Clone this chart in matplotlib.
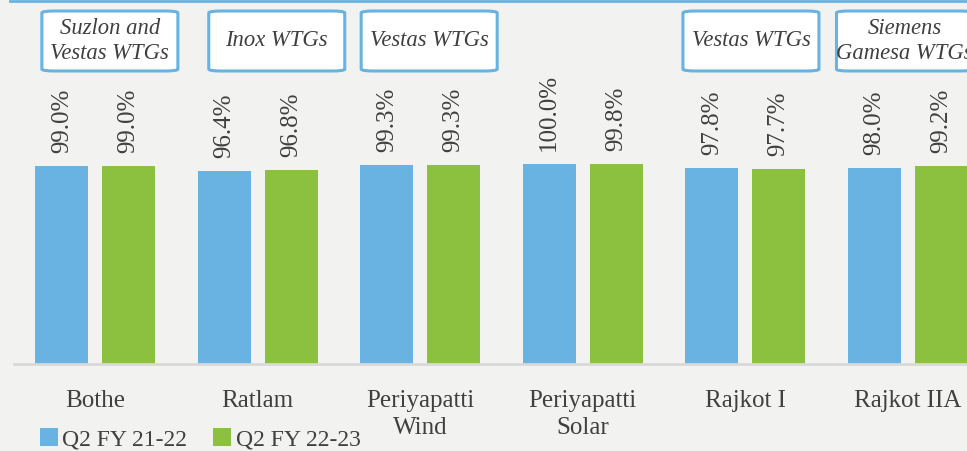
import numpy as np
import matplotlib.pyplot as plt
from matplotlib.patches import FancyBboxPatch

# -----------------------------
# DATA
# -----------------------------
plants = ["Bothe", "Ratlam", "Periyapatti\nWind", "Periyapatti\nSolar", "Rajkot I", "Rajkot IIA"]
q2_fy2122 = [99.0, 96.4, 99.3, 100.0, 97.8, 98.0]
q2_fy2223 = [99.0, 96.8, 99.3, 99.8, 97.7, 99.2]
series_names = ["Q2 FY 21-22", "Q2 FY 22-23"]

# OEM notes above the groups (None = no box)
oem_notes = ["Suzlon and\nVestas WTGs", "Inox WTGs", "Vestas WTGs", None, "Vestas WTGs", "Siemens\nGamesa WTGs"]
note_shift = [0.09, 0.117, 0.055, 0.0, 0.035, -0.02]

# -----------------------------
# STYLE
# -----------------------------
BG = "#f2f2f1"
BLUE = "#69b3e2"
GREEN = "#8bc13f"
TXT = "#404040"
SERIF = ["Liberation Serif", "DejaVu Serif"]

W, H = 967, 451
fig = plt.figure(figsize=(W / 100, H / 100), dpi=100, facecolor=BG)

# axes runs past the right edge, the source image is cropped there
ax_left, ax_w = 14 / W, 975 / W
ax_bottom, ax_h = (H - 364) / H, 364 / H
ax = fig.add_axes([ax_left, ax_bottom, ax_w, ax_h])
ax.set_facecolor(BG)

x = np.arange(len(plants))
bw = 0.326
off = 0.206

b1 = ax.bar(x - off, q2_fy2122, bw, color=BLUE, label=series_names[0])
b2 = ax.bar(x + off, q2_fy2223, bw, color=GREEN, label=series_names[1])

for bars, vals in ((b1, q2_fy2122), (b2, q2_fy2223)):
    for r, v in zip(bars, vals):
        ax.text(r.get_x() + r.get_width() / 2, v + 6.5, f"{v:.1f}%", rotation=90,
                ha="center", va="bottom", fontsize=18, color=TXT, family=SERIF)

# OEM boxes
box_w, box_h = 0.837, 30
for i, note in enumerate(oem_notes):
    if note is None:
        continue
    cx = i + note_shift[i]
    cy = 161.5
    p = FancyBboxPatch((cx - box_w / 2, cy - box_h / 2), box_w, box_h,
                       boxstyle="round,pad=0,rounding_size=0.08",
                       mutation_aspect=12,
                       facecolor="white", edgecolor=BLUE, linewidth=2.2, clip_on=False)
    ax.add_patch(p)
    ax.text(cx, cy, note, ha="center", va="center", fontsize=16.3, style="italic",
            color=TXT, family=SERIF, linespacing=1.2)

ax.set_xlim(-0.5, len(plants) - 0.5)
ax.set_ylim(0, 182)
ax.set_xticks(x)
ax.set_xticklabels(plants, family=SERIF, fontsize=18, color=TXT, linespacing=1.25)
ax.tick_params(axis="x", length=0, pad=19)
ax.set_yticks([])
for s in ("top", "right", "left"):
    ax.spines[s].set_visible(False)
ax.spines["bottom"].set_color("#d9d9d9")
ax.spines["bottom"].set_linewidth(2)

# thin blue rule along the top edge
fig.add_artist(plt.Line2D([10 / W, 1], [1 - 1 / H, 1 - 1 / H], color=BLUE, lw=2))

leg = fig.legend(handles=[b1, b2], labels=series_names, loc="lower left",
                 bbox_to_anchor=(40 / W, 0.002), ncol=2, frameon=False,
                 prop={"family": SERIF, "size": 17}, handlelength=0.75, handleheight=0.75,
                 handletextpad=0.2, columnspacing=1.1, borderpad=0, borderaxespad=0)
for t in leg.get_texts():
    t.set_color(TXT)

fig.savefig("out.png", dpi=100, facecolor=BG)
